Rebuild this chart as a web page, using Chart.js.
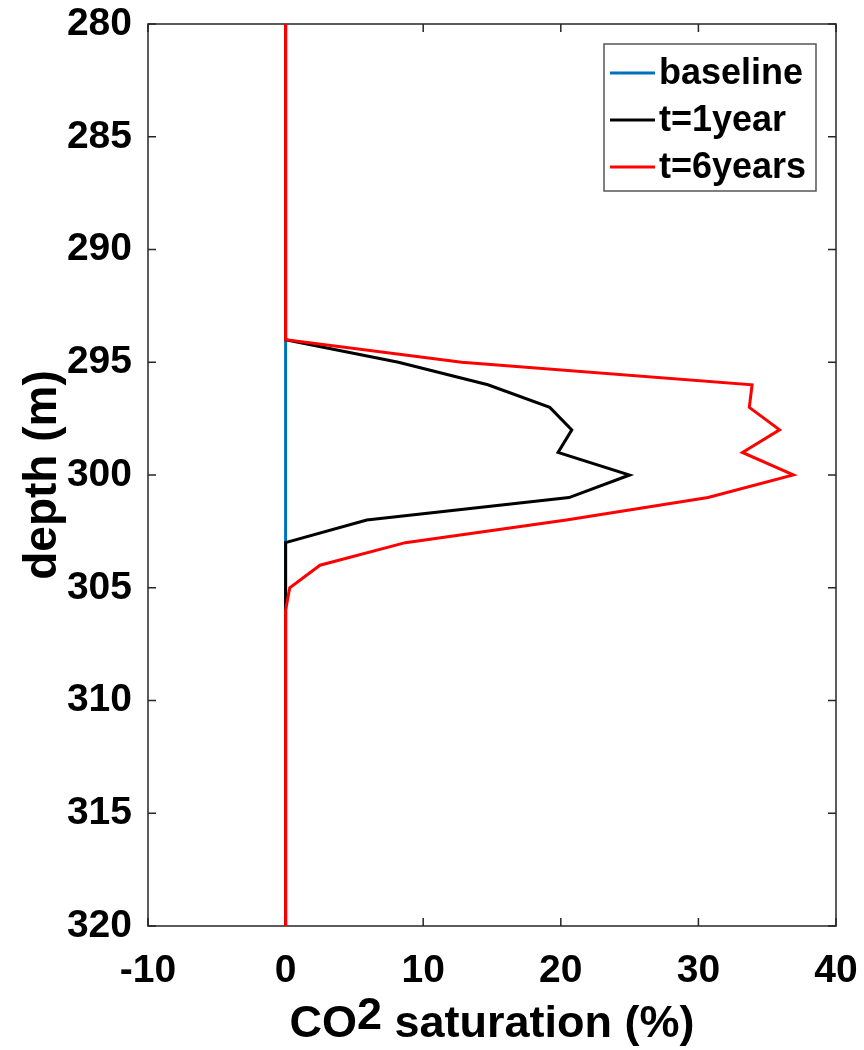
<!DOCTYPE html>
<html>
<head>
<meta charset="utf-8">
<title>CO2 saturation profile</title>
<script src="https://cdn.jsdelivr.net/npm/chart.js@4/dist/chart.umd.min.js"></script>
<style>
  html, body { margin: 0; padding: 0; background: #fff; }
  canvas { display: block; }
</style>
</head>
<body>
<canvas id="myChart" width="864" height="1050"></canvas>
<script>
// depth samples (m) and CO2 saturation (%) at each depth
const depth    = [280, 294, 295, 296, 297, 298, 299, 300, 301, 302, 303, 304, 305, 306, 320];
const baseline = [0, 0, 0, 0, 0, 0, 0, 0, 0, 0, 0, 0, 0, 0, 0];
const year1    = [0, 0, 8.2, 14.7, 19.2, 20.8, 19.8, 25.0, 20.6, 5.9, 0, 0, 0, 0, 0];
const year6    = [0, 0, 12.8, 33.9, 33.7, 35.9, 33.2, 36.9, 30.7, 20.4, 8.7, 2.5, 0.3, 0, 0];

const seriesNames = ['baseline', 't=1year', 't=6years'];
const seriesColors = ['#0072BD', '#000000', '#FF0000'];
const xTicks = [-10, 0, 10, 20, 30, 40];
const yTicks = [280, 285, 290, 295, 300, 305, 310, 315, 320];

const FONT = '"Liberation Sans", Arial, Helvetica, sans-serif';
const AXIS = '#262626';

function toPoints(vals) {
  return depth.map((d, i) => ({ x: vals[i], y: d }));
}

// box around the plot with inward ticks on all four sides, matlab style
const framePlugin = {
  id: 'frame',
  beforeDatasetsDraw(chart) {
    const { ctx, chartArea: a, scales } = chart;
    const len = 8;
    ctx.save();
    ctx.strokeStyle = AXIS;
    ctx.lineWidth = 1.5;
    ctx.strokeRect(a.left, a.top, a.right - a.left, a.bottom - a.top);
    ctx.beginPath();
    xTicks.forEach(v => {
      const px = scales.x.getPixelForValue(v);
      ctx.moveTo(px, a.bottom); ctx.lineTo(px, a.bottom - len);
      ctx.moveTo(px, a.top); ctx.lineTo(px, a.top + len);
    });
    yTicks.forEach(v => {
      const py = scales.y.getPixelForValue(v);
      ctx.moveTo(a.left, py); ctx.lineTo(a.left + len, py);
      ctx.moveTo(a.right, py); ctx.lineTo(a.right - len, py);
    });
    ctx.stroke();
    ctx.restore();
  },
  afterDraw(chart) {
    const { ctx, chartArea: a } = chart;
    ctx.save();
    ctx.fillStyle = '#000';
    ctx.font = 'bold 45px ' + FONT;
    ctx.textBaseline = 'alphabetic';

    // x axis title, the 2 sits raised after CO
    const p1 = 'CO', p2 = '2', p3 = ' saturation (%)';
    const w1 = ctx.measureText(p1).width;
    const w2 = ctx.measureText(p2).width;
    const w3 = ctx.measureText(p3).width;
    const x = (a.left + a.right) / 2 - (w1 + w2 + w3) / 2;
    const yb = 1037;
    ctx.textAlign = 'left';
    ctx.fillText(p1, x, yb);
    ctx.fillText(p2, x + w1, yb - 8);
    ctx.fillText(p3, x + w1 + w2, yb);

    // y axis title
    ctx.font = 'bold 46px ' + FONT;
    ctx.translate(56, (a.top + a.bottom) / 2);
    ctx.rotate(-Math.PI / 2);
    ctx.textAlign = 'center';
    ctx.fillText('depth (m)', 0, 0);
    ctx.restore();

    // legend box in the upper right corner
    const lx = 604, ly = 44, lw = 212, lh = 147;
    ctx.save();
    ctx.fillStyle = '#fff';
    ctx.fillRect(lx, ly, lw, lh);
    ctx.strokeStyle = '#555';
    ctx.lineWidth = 1.5;
    ctx.strokeRect(lx, ly, lw, lh);
    ctx.font = 'bold 36px ' + FONT;
    ctx.textAlign = 'left';
    ctx.textBaseline = 'middle';
    seriesNames.forEach((name, i) => {
      const cy = ly + 29 + i * 47;
      ctx.strokeStyle = seriesColors[i];
      ctx.lineWidth = 3;
      ctx.beginPath();
      ctx.moveTo(lx + 6, cy);
      ctx.lineTo(lx + 51, cy);
      ctx.stroke();
      ctx.fillStyle = '#000';
      ctx.fillText(name, lx + 55, cy + 1);
    });
    ctx.restore();
  }
};

const ctx = document.getElementById('myChart').getContext('2d');
const chart = new Chart(ctx, {
  type: 'line',
  data: {
    datasets: [
      { label: seriesNames[0], data: toPoints(baseline), borderColor: seriesColors[0], order: 2 },
      { label: seriesNames[1], data: toPoints(year1), borderColor: seriesColors[1], order: 1 },
      { label: seriesNames[2], data: toPoints(year6), borderColor: seriesColors[2], order: 0 }
    ]
  },
  options: {
    responsive: false,
    animation: false,
    indexAxis: 'y',
    layout: { padding: { top: 24, right: 28, left: 0, bottom: 0 } },
    elements: {
      line: { borderWidth: 3, tension: 0, fill: false },
      point: { radius: 0 }
    },
    plugins: {
      legend: { display: false },
      tooltip: { enabled: false }
    },
    scales: {
      x: {
        type: 'linear',
        min: -10, max: 40,
        afterFit(scale) {
          scale.height = 124;
          scale.paddingLeft = 0;
          scale.paddingRight = 0;
        },
        afterBuildTicks(scale) { scale.ticks = xTicks.map(v => ({ value: v })); },
        grid: { display: false, drawTicks: false },
        border: { display: false },
        ticks: { color: '#000', padding: 22, font: { family: FONT, size: 39, weight: 'bold' } }
      },
      y: {
        type: 'linear',
        reverse: true,
        min: 280, max: 320,
        afterFit(scale) {
          scale.width = 148;
          scale.paddingTop = 0;
          scale.paddingBottom = 0;
        },
        afterBuildTicks(scale) { scale.ticks = yTicks.map(v => ({ value: v })); },
        grid: { display: false, drawTicks: false },
        border: { display: false },
        ticks: { color: '#000', padding: 16, font: { family: FONT, size: 39, weight: 'bold' } }
      }
    }
  },
  plugins: [framePlugin]
});
</script>
</body>
</html>
